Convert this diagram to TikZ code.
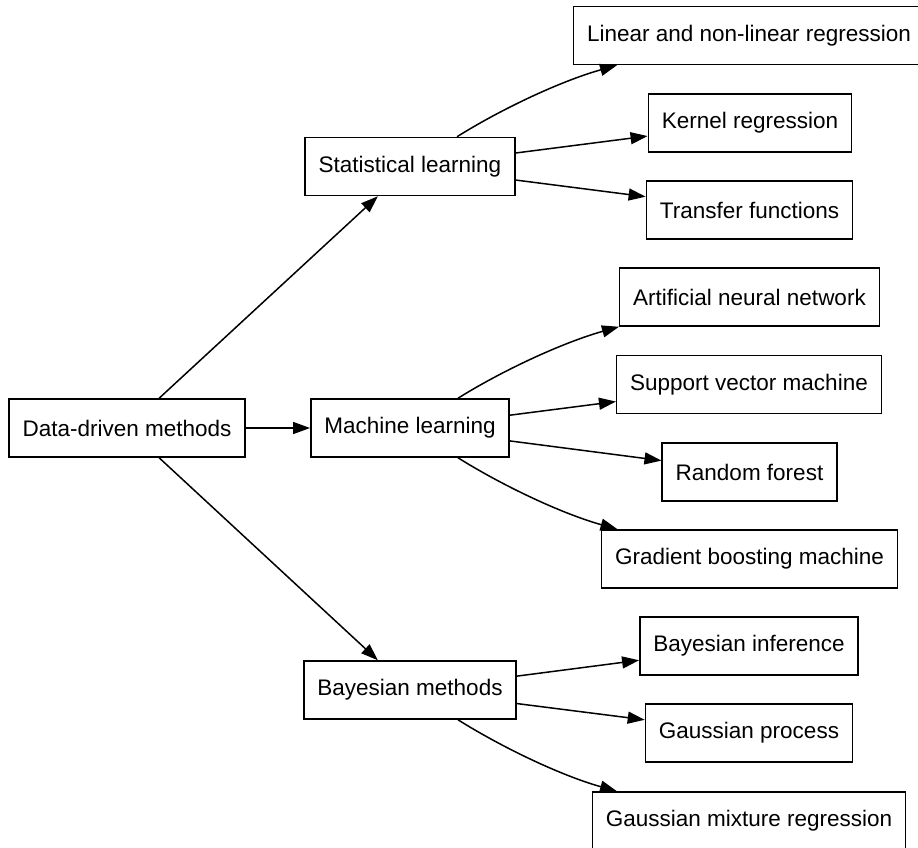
\documentclass[tikz,border=0pt]{standalone}
\usepackage{fontspec}
\setmainfont{Liberation Sans}
\usetikzlibrary{arrows.meta,calc}
\begin{document}
\begin{tikzpicture}[x=1pt,y=-1pt,
  box/.style={draw,line width=1.5pt,minimum height=58pt,inner xsep=13.5pt,inner ysep=0pt,
    font=\fontsize{22.5}{27}\selectfont,anchor=center},
  edge/.style={line width=1.5pt,-{Triangle[length=17pt,width=12pt]}}]
\useasboundingbox (0,0) rectangle (918,847);
\node[box] (dd) at (127,428) {Data-driven methods};
\node[box] (sl) at (410,166.5) {Statistical learning};
\node[box] (ml) at (410,428) {Machine learning};
\node[box] (bm) at (410,690) {Bayesian methods};
\node[box] (lin) at (749,35.5) {Linear and non-linear regression};
\node[box] (ker) at (750,123) {Kernel regression};
\node[box] (tf) at (749.5,210) {Transfer functions};
\node[box] (ann) at (749.5,297) {Artificial neural network};
\node[box] (svm) at (749,384.5) {Support vector machine};
\node[box] (rf) at (749.5,472) {Random forest};
\node[box] (gbm) at (749.5,559) {Gradient boosting machine};
\node[box] (bi) at (749,646) {Bayesian inference};
\node[box] (gp) at (749,733) {Gaussian process};
\node[box] (gmr) at (749,821) {Gaussian mixture regression};
\draw[edge] (dd) -- (sl);
\draw[edge] (dd) -- (ml);
\draw[edge] (dd) -- (bm);
\draw[edge] ($(sl.north)+(47,0)$) .. controls +(43,-27) and +(-57,16) .. ($(lin.south)+(-132,0)$);
\draw[edge] (sl) -- (ker);
\draw[edge] (sl) -- (tf);
\draw[edge] ($(ml.north)+(48,0)$) .. controls +(43,-27) and +(-57,16) .. (ann.south west);
\draw[edge] (ml) -- (svm);
\draw[edge] (ml) -- (rf);
\draw[edge] ($(ml.south)+(48,0)$) .. controls +(43,27) and +(-57,-16) .. ($(gbm.north)+(-132,0)$);
\draw[edge] (bm) -- (bi);
\draw[edge] (bm) -- (gp);
\draw[edge] ($(bm.south)+(48,0)$) .. controls +(43,27) and +(-57,-16) .. ($(gmr.north)+(-132,0)$);
\end{tikzpicture}
\end{document}
